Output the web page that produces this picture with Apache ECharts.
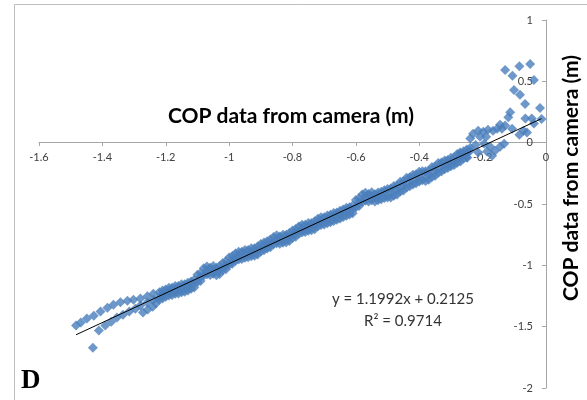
<!DOCTYPE html>
<html>
<head>
<meta charset="utf-8">
<script src="https://cdn.jsdelivr.net/npm/echarts@6/dist/echarts.min.js"></script>
<style>html,body{margin:0;padding:0;background:#fff}#c{width:587px;height:400px}</style>
</head>
<body>
<div id="c"></div>
<script>
// ---- data ----
const xTicks = [-1.6, -1.4, -1.2, -1, -0.8, -0.6, -0.4, -0.2, 0];
const yTicks = [-2, -1.5, -1, -0.5, 0, 0.5, 1];

const leftUpperArm = [
  [-1.483,-1.491],[-1.468,-1.467],[-1.449,-1.434],[-1.427,-1.410],[-1.406,-1.377],
  [-1.384,-1.345],[-1.365,-1.322],[-1.343,-1.300],[-1.321,-1.288],[-1.302,-1.280],
  [-1.280,-1.271],[-1.258,-1.252],[-1.239,-1.231]
];
const leftLowerArm = [
  [-1.411,-1.532],[-1.391,-1.491],[-1.372,-1.459],[-1.354,-1.426],[-1.335,-1.402],
  [-1.315,-1.377],[-1.296,-1.353],[-1.280,-1.328],[-1.258,-1.304],[-1.239,-1.280],
  [-1.220,-1.263]
];
const leftLowerBlob = [[-1.272,-1.385],[-1.257,-1.361],[-1.241,-1.337],[-1.231,-1.312]];
const outliers = [[-1.430,-1.671]];

const bandUpper = [
  [-1.22,-1.220],[-1.20,-1.196],[-1.18,-1.182],[-1.16,-1.169],[-1.14,-1.155],[-1.12,-1.131],
  [-1.10,-1.077],[-1.08,-1.023],[-1.06,-1.019],[-1.04,-1.020],[-1.02,-0.981],[-1.00,-0.937],
  [-0.98,-0.903],[-0.96,-0.889],[-0.94,-0.875],[-0.92,-0.861],[-0.90,-0.827],[-0.88,-0.803],
  [-0.86,-0.769],[-0.84,-0.765],[-0.82,-0.751],[-0.80,-0.717],[-0.78,-0.683],[-0.76,-0.669],
  [-0.74,-0.655],[-0.72,-0.621],[-0.70,-0.607],[-0.68,-0.588],[-0.66,-0.569],[-0.64,-0.545],
  [-0.62,-0.526],[-0.60,-0.467],[-0.58,-0.423],[-0.56,-0.419],[-0.54,-0.420],[-0.52,-0.401],
  [-0.50,-0.377],[-0.48,-0.353],[-0.46,-0.319],[-0.44,-0.285],[-0.42,-0.261],[-0.40,-0.237],
  [-0.38,-0.233],[-0.36,-0.199],[-0.34,-0.165],[-0.32,-0.146],[-0.30,-0.122],[-0.28,-0.093],
  [-0.26,-0.069]
];
const bandUpperB = [
  [-1.21,-1.206],[-1.19,-1.182],[-1.17,-1.168],[-1.15,-1.155],[-1.13,-1.141],[-1.11,-1.117],
  [-1.09,-1.063],[-1.07,-1.009],[-1.05,-1.005],[-1.03,-1.006],[-1.01,-0.967],[-0.99,-0.923],
  [-0.97,-0.889],[-0.95,-0.875],[-0.93,-0.861],[-0.91,-0.847],[-0.89,-0.813],[-0.87,-0.789],
  [-0.85,-0.755],[-0.83,-0.751],[-0.81,-0.737],[-0.79,-0.703],[-0.77,-0.669],[-0.75,-0.655],
  [-0.73,-0.641],[-0.71,-0.607],[-0.69,-0.593],[-0.67,-0.574],[-0.65,-0.555],[-0.63,-0.531],
  [-0.61,-0.512],[-0.59,-0.453],[-0.57,-0.409],[-0.55,-0.405],[-0.53,-0.406],[-0.51,-0.387],
  [-0.49,-0.373],[-0.47,-0.349],[-0.45,-0.315],[-0.43,-0.281],[-0.41,-0.257],[-0.39,-0.233],
  [-0.37,-0.229],[-0.35,-0.195],[-0.33,-0.161],[-0.31,-0.142],[-0.29,-0.118],[-0.27,-0.089],
  [-0.25,-0.055]
];
const bandMiddle = [
  [-1.21,-1.238],[-1.19,-1.214],[-1.17,-1.200],[-1.15,-1.187],[-1.13,-1.173],[-1.11,-1.149],
  [-1.09,-1.095],[-1.07,-1.041],[-1.05,-1.037],[-1.03,-1.038],[-1.01,-0.999],[-0.99,-0.955],
  [-0.97,-0.921],[-0.95,-0.907],[-0.93,-0.893],[-0.91,-0.879],[-0.89,-0.845],[-0.87,-0.821],
  [-0.85,-0.787],[-0.83,-0.783],[-0.81,-0.769],[-0.79,-0.735],[-0.77,-0.701],[-0.75,-0.687],
  [-0.73,-0.673],[-0.71,-0.639],[-0.69,-0.625],[-0.67,-0.606],[-0.65,-0.587],[-0.63,-0.563],
  [-0.61,-0.544],[-0.59,-0.485],[-0.57,-0.441],[-0.55,-0.437],[-0.53,-0.438],[-0.51,-0.419],
  [-0.49,-0.405],[-0.47,-0.381],[-0.45,-0.347],[-0.43,-0.313],[-0.41,-0.289],[-0.39,-0.265],
  [-0.37,-0.261],[-0.35,-0.227],[-0.33,-0.193],[-0.31,-0.174],[-0.29,-0.150],[-0.27,-0.121],
  [-0.25,-0.087]
];
const bandLower = [
  [-1.22,-1.280],[-1.20,-1.256],[-1.18,-1.242],[-1.16,-1.229],[-1.14,-1.215],[-1.12,-1.191],
  [-1.10,-1.137],[-1.08,-1.083],[-1.06,-1.079],[-1.04,-1.080],[-1.02,-1.041],[-1.00,-0.997],
  [-0.98,-0.963],[-0.96,-0.949],[-0.94,-0.935],[-0.92,-0.921],[-0.90,-0.887],[-0.88,-0.863],
  [-0.86,-0.829],[-0.84,-0.825],[-0.82,-0.811],[-0.80,-0.777],[-0.78,-0.743],[-0.76,-0.729],
  [-0.74,-0.715],[-0.72,-0.681],[-0.70,-0.667],[-0.68,-0.648],[-0.66,-0.629],[-0.64,-0.605],
  [-0.62,-0.586],[-0.60,-0.527],[-0.58,-0.483],[-0.56,-0.479],[-0.54,-0.480],[-0.52,-0.461],
  [-0.50,-0.447],[-0.48,-0.433],[-0.46,-0.399],[-0.44,-0.365],[-0.42,-0.341],[-0.40,-0.317],
  [-0.38,-0.313],[-0.36,-0.279],[-0.34,-0.245],[-0.32,-0.216],[-0.30,-0.192],[-0.28,-0.163],
  [-0.26,-0.129]
];
const bandLowerB = [
  [-1.21,-1.270],[-1.19,-1.246],[-1.17,-1.232],[-1.15,-1.219],[-1.13,-1.205],[-1.11,-1.181],
  [-1.09,-1.127],[-1.07,-1.073],[-1.05,-1.069],[-1.03,-1.070],[-1.01,-1.031],[-0.99,-0.987],
  [-0.97,-0.953],[-0.95,-0.939],[-0.93,-0.925],[-0.91,-0.911],[-0.89,-0.877],[-0.87,-0.853],
  [-0.85,-0.819],[-0.83,-0.815],[-0.81,-0.801],[-0.79,-0.767],[-0.77,-0.733],[-0.75,-0.719],
  [-0.73,-0.705],[-0.71,-0.671],[-0.69,-0.657],[-0.67,-0.638],[-0.65,-0.619],[-0.63,-0.595],
  [-0.61,-0.576],[-0.59,-0.517],[-0.57,-0.473],[-0.55,-0.469],[-0.53,-0.470],[-0.51,-0.451],
  [-0.49,-0.447],[-0.47,-0.423],[-0.45,-0.389],[-0.43,-0.355],[-0.41,-0.331],[-0.39,-0.307],
  [-0.37,-0.303],[-0.35,-0.269],[-0.33,-0.235],[-0.31,-0.206],[-0.29,-0.182],[-0.27,-0.153],
  [-0.25,-0.119]
];
const rightCluster = [
  [-0.271,-0.081],[-0.249,-0.122],[-0.239,-0.041],[-0.255,-0.098],[-0.239,-0.065],
  [-0.230,0.073],[-0.214,0.098],[-0.198,0.090],[-0.183,0.106],[-0.167,0.098],
  [-0.154,0.114],[-0.139,0.114],[-0.208,0.049],[-0.189,0.049],[-0.239,0.033],
  [-0.195,-0.008],[-0.176,-0.033],[-0.161,-0.065],[-0.145,-0.033],[-0.132,-0.008],
  [-0.170,-0.106],[-0.186,-0.073],[-0.214,-0.081],[-0.222,-0.020]
];
const rightScatter = [
  [-0.129,0.593],[-0.106,0.546],[-0.084,0.622],[-0.050,0.641],[-0.101,0.430],
  [-0.082,0.391],[-0.038,0.511],[-0.066,0.315],[-0.019,0.282],[-0.113,0.247],
  [-0.119,0.207],[-0.065,0.198],[-0.045,0.198],[-0.014,0.193],[-0.145,0.147],
  [-0.129,0.139],[-0.084,0.065],[-0.071,0.098],[-0.038,0.157],[-0.060,0.082],
  [-0.107,0.114]
];
// linear trend line shown in the chart: y = 1.1992x + 0.2125, over the data range
const trendX = [-1.483, -0.014];
const trendY = [-1.566, 0.196];

const allPoints = [].concat(leftUpperArm, leftLowerArm, leftLowerBlob, outliers,
  bandUpper, bandUpperB, bandMiddle, bandLower, bandLowerB, rightCluster, rightScatter);

const chart = echarts.init(document.getElementById('c'), null, {renderer: 'canvas'});
const axisFont = {fontFamily: 'Lato', fontSize: 11, color: '#404040'};
const fmt = v => String(Math.round(v * 10) / 10);
chart.setOption({
  animation: false,
  backgroundColor: '#ffffff',
  grid: {left: 39, right: 41, top: 20, bottom: 12, containLabel: false},
  xAxis: {
    type: 'value', min: xTicks[0], max: xTicks[xTicks.length - 1], interval: 0.2,
    position: 'bottom', offset: -246,
    axisLine: {onZero: false, lineStyle: {color: '#a6a6a6', width: 1}},
    axisTick: {show: true, length: 4, lineStyle: {color: '#a6a6a6'}},
    splitLine: {show: false},
    axisLabel: Object.assign({margin: 10, showMinLabel: true, showMaxLabel: true, formatter: fmt}, axisFont)
  },
  yAxis: {
    type: 'value', min: yTicks[0], max: yTicks[yTicks.length - 1], interval: 0.5,
    position: 'right',
    axisLine: {onZero: false, lineStyle: {color: '#a6a6a6', width: 1}},
    axisTick: {show: true, inside: true, length: 4, lineStyle: {color: '#a6a6a6'}},
    splitLine: {show: false},
    axisLabel: Object.assign({inside: true, margin: 13, showMinLabel: true, showMaxLabel: true, formatter: fmt}, axisFont)
  },
  series: [
    {
      type: 'scatter', data: allPoints, symbol: 'diamond', symbolSize: 10,
      itemStyle: {color: '#4a7ebb'}, z: 2
    },
    {
      type: 'line', data: trendX.map((x, i) => [x, trendY[i]]), symbol: 'none',
      lineStyle: {color: '#000000', width: 1}, z: 3
    }
  ],
  graphic: [
    {type: 'rect', shape: {x: 14.5, y: 4.5, width: 640, height: 460},
      style: {fill: 'none', stroke: '#bdbdbd', lineWidth: 1}, silent: true},
    {type: 'text', x: 291, y: 116,
      style: {text: 'COP data from camera (m)', fontFamily: 'Lato', fontWeight: 'bold', fontSize: 21,
        fill: '#000', textAlign: 'center', textVerticalAlign: 'middle', align: 'center', verticalAlign: 'middle'}},
    {type: 'text', x: 571, y: 178, rotation: Math.PI / 2,
      style: {text: 'COP data from camera (m)', fontFamily: 'Lato', fontWeight: 'bold', fontSize: 21,
        fill: '#000', textAlign: 'center', textVerticalAlign: 'middle', align: 'center', verticalAlign: 'middle'}},
    {type: 'text', x: 403, y: 299,
      style: {text: 'y = 1.1992x + 0.2125', fontFamily: 'Lato', fontSize: 15,
        fill: '#333', textAlign: 'center', textVerticalAlign: 'middle', align: 'center', verticalAlign: 'middle'}},
    {type: 'text', x: 403, y: 321,
      style: {text: 'R² = 0.9714', fontFamily: 'Lato', fontSize: 15,
        fill: '#333', textAlign: 'center', textVerticalAlign: 'middle', align: 'center', verticalAlign: 'middle'}},
    {type: 'text', x: 21, y: 395,
      style: {text: 'D', fontFamily: 'Liberation Serif', fontWeight: 'bold', fontSize: 27,
        fill: '#000', textAlign: 'left', textVerticalAlign: 'bottom', align: 'left', verticalAlign: 'bottom'}}
  ]
});
</script>
</body>
</html>
